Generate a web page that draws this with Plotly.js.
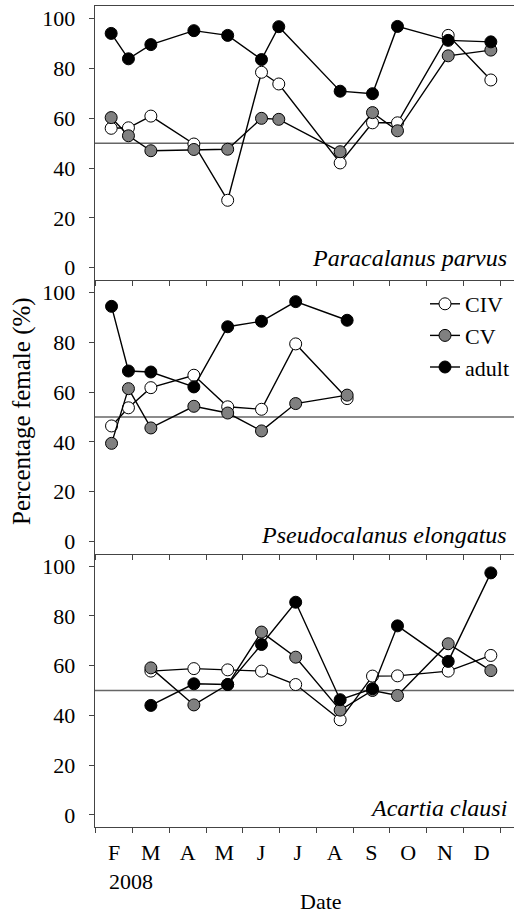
<!DOCTYPE html>
<html>
<head>
<meta charset="utf-8">
<script src="https://cdn.plot.ly/plotly-3.0.1.min.js"></script>
<style>html,body{margin:0;padding:0;background:#fff;}#chart{width:514px;height:915px;}</style>
</head>
<body>
<div id="chart"></div>
<script>
// Sampling dates as month index (0 = start of Feb 2008)
const paracalanusDates = [0.42, 0.89, 1.50, 2.67, 3.59, 4.51, 4.98, 6.65, 7.53, 8.21, 9.59, 10.75];
const paracalanusCIV   = [56.0, 56.2, 60.9, 49.7, 27.1, 78.5, 73.8, 42.1, 58.2, 58.2, 93.3, 75.4];
const paracalanusCV    = [60.3, 53.0, 47.0, 47.5, 47.6, 60.0, 59.6, 46.6, 62.3, 55.0, 85.1, 87.4];
const paracalanusAdult = [94.1, 83.9, 89.6, 95.2, 93.3, 83.6, 96.8, 70.9, 69.9, 96.9, 91.3, 90.7];

const pseudocalanusDates = [0.43, 0.89, 1.50, 2.67, 3.59, 4.51, 5.44, 6.84];
const pseudocalanusCIV   = [46.4, 53.7, 61.8, 66.8, 54.1, 53.1, 79.4, 57.4];
const pseudocalanusCV    = [39.4, 61.4, 45.6, 54.3, 51.6, 44.4, 55.4, 58.8];
const pseudocalanusAdult = [94.5, 68.5, 68.1, 62.1, 86.3, 88.5, 96.4, 88.9];

const acartiaDates = [1.50, 2.67, 3.59, 4.51, 5.44, 6.65, 7.53, 8.21, 9.59, 10.75];
const acartiaCIV   = [57.8, 58.8, 58.3, 57.8, 52.4, 38.2, 55.8, 55.9, 57.8, 64.1];
const acartiaCV    = [59.1, 44.2, 52.4, 73.5, 63.4, 42.1, 50.0, 48.0, 68.8, 58.0];
const acartiaAdult = [44.0, 52.7, 52.4, 68.5, 85.5, 46.3, 50.7, 76.0, 61.7, 97.3];

const stageNames = ['CIV', 'CV', 'adult'];
const speciesNames = ['Paracalanus parvus', 'Pseudocalanus elongatus', 'Acartia clausi'];
const monthBoundaries = [0,1,2,3,4,5,6,7,8,9,10,11];
const monthCenters = [0.5,1.5,2.5,3.5,4.5,5.5,6.5,7.5,8.5,9.5,10.5];
const monthLabels = ['F','M','A','M','J','J','A','S','O','N','D'];
const yearLabel = '2008';
const yTicks = [0,20,40,60,80,100];
const parityLine = 50;

const panels = [
  {dates: paracalanusDates, series: [paracalanusCIV, paracalanusCV, paracalanusAdult]},
  {dates: pseudocalanusDates, series: [pseudocalanusCIV, pseudocalanusCV, pseudocalanusAdult]},
  {dates: acartiaDates, series: [acartiaCIV, acartiaCV, acartiaAdult]}
];
const fills = ['#ffffff', '#808080', '#000000'];

const traces = [];
panels.forEach((p, i) => {
  p.series.forEach((vals, s) => {
    traces.push({
      type: 'scatter', mode: 'lines+markers',
      x: p.dates, y: vals,
      xaxis: i === 0 ? 'x' : 'x' + (i + 1),
      yaxis: i === 0 ? 'y' : 'y' + (i + 1),
      name: stageNames[s],
      showlegend: i === 1,
      line: {color: '#000', width: 1.4},
      marker: {size: 12, color: fills[s], line: {color: '#000', width: 1}}
    });
  });
});
// invisible trace to drive the month label axis
traces.push({type:'scatter', mode:'markers', x:[monthCenters[0]], y:[0], xaxis:'x4', yaxis:'y3',
  marker:{opacity:0}, showlegend:false, hoverinfo:'skip'});

const H = 915;
const tops = [6, 280, 553.5, 827];
const yr = [-4.9, 105.1];
const xr = [-0.02, 11.38];
const FAMILY = 'Liberation Serif, Times New Roman, serif';
function F(size) { return {family: FAMILY, size: size, color: '#000'}; }

function yAxis(i) {
  return {
    domain: [1 - tops[i+1]/H, 1 - tops[i]/H], range: yr,
    tickvals: yTicks, ticks: 'outside', ticklen: 5, tickcolor: '#444',
    showline: true, linecolor: '#444', linewidth: 1.3, showgrid: false, zeroline: false,
    ticklabelstandoff: 9,
    tickfont: F(22), anchor: i === 0 ? 'x' : 'x' + (i+1)
  };
}
function xAxis(i) {
  return {
    range: xr, tickvals: monthBoundaries, ticks: 'outside', ticklen: 5, tickcolor: '#444',
    showticklabels: false, showline: true, linecolor: '#444', linewidth: 1.3,
    mirror: i === 0, showgrid: false, zeroline: false,
    anchor: i === 0 ? 'y' : 'y' + (i+1)
  };
}

const shapes = [0,1,2].map(i => ({
  type: 'line', xref: (i === 0 ? 'x' : 'x' + (i+1)) + ' domain', x0: 0, x1: 1,
  yref: i === 0 ? 'y' : 'y' + (i+1), y0: parityLine, y1: parityLine,
  line: {color: '#666', width: 1.3}, layer: 'below'
}));

const speciesY = [258, 535, 808];
const annotations = speciesNames.map((n, i) => ({
  text: '<i>' + n + '</i>', xref: 'paper', x: (509-95)/419, xanchor: 'right',
  yref: 'paper', y: 1 - speciesY[i]/H, yanchor: 'middle', showarrow: false,
  font: F(24)
}));
annotations.push({text: yearLabel, xref: 'x3', x: 0.3, xanchor: 'left', yref: 'paper', y: 1 - 881/H,
  yanchor: 'middle', showarrow: false, font: F(22)});
annotations.push({text: 'Date', xref: 'paper', x: (321-95)/419, xanchor: 'center', yref: 'paper', y: 0,
  yanchor: 'bottom', borderpad: 0, showarrow: false, font: F(22)});
annotations.push({text: 'Percentage female (%)', xref: 'paper', x: (22-95)/419, xanchor: 'center',
  yref: 'paper', y: 1 - 411/H, yanchor: 'middle', textangle: -90, showarrow: false,
  font: F(25)});

const layout = {
  width: 514, height: 915,
  margin: {l: 95, r: 0, t: 0, b: 0},
  paper_bgcolor: '#fff', plot_bgcolor: 'rgba(0,0,0,0)',
  font: F(20),
  showlegend: true,
  legend: {x: 1, xanchor: 'right', y: 1 - 283/H, yanchor: 'top', bgcolor: 'rgba(0,0,0,0)',
    font: F(22), tracegroupgap: 0},
  xaxis: xAxis(0), xaxis2: xAxis(1), xaxis3: xAxis(2),
  xaxis4: {overlaying: 'x3', anchor: 'y3', range: xr, tickvals: monthCenters, ticktext: monthLabels,
    ticks: '', showline: false, showgrid: false, zeroline: false, ticklabelstandoff: 10,
    tickfont: F(22)},
  yaxis: yAxis(0), yaxis2: yAxis(1), yaxis3: yAxis(2),
  shapes: shapes, annotations: annotations
};

Plotly.newPlot('chart', traces, layout, {staticPlot: true, displayModeBar: false});
</script>
</body>
</html>
